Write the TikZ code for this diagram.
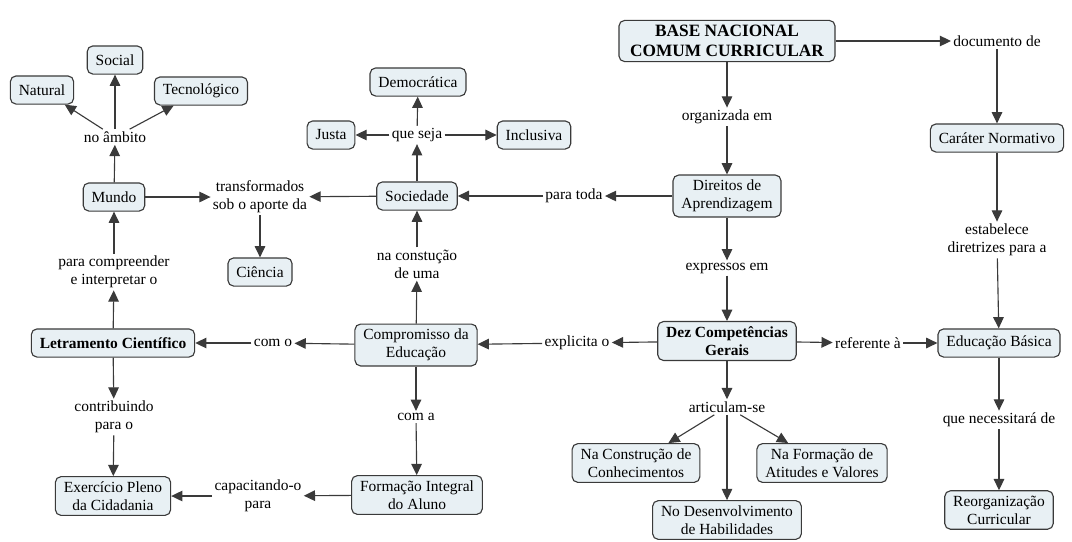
\documentclass[tikz,border=0pt]{standalone}
\usepackage{fontspec}
\setmainfont{Liberation Serif}
\usepackage{tikz}
\usetikzlibrary{arrows.meta}
\definecolor{conceptfill}{HTML}{E8F0F4}
\definecolor{conceptline}{HTML}{3A3A3A}

\begin{document}
\begin{tikzpicture}[x=0.025cm, y=-0.025cm,
    concept/.style={draw=conceptline, line width=0.8pt, rounded corners=4pt, fill=conceptfill,
        align=center, inner xsep=6pt, inner ysep=3.5pt, minimum height=20pt,
        font=\fontsize{11}{12.8}\selectfont},
    link/.style={align=center, inner sep=1.5pt, font=\fontsize{11}{12.8}\selectfont},
    arr/.style={-{Triangle[length=8pt,width=7.5pt]}, line width=0.8pt, draw=conceptline}]
    \useasboundingbox (0,0) rectangle (1072,541);

    % Top: Base Nacional
    \node[concept, font=\fontsize{12.3}{14}\selectfont\bfseries, inner xsep=8pt] (bncc) at (727,41) {BASE NACIONAL\\COMUM CURRICULAR};
    \node[link] (organizada) at (727,117) {organizada em};
    \node[concept] (direitos) at (727,196) {Direitos de\\Aprendizagem};
    \node[link] (expressos) at (727,268) {expressos em};
    \node[concept, font=\fontsize{11}{12.8}\selectfont\bfseries] (dez) at (727,341) {Dez Competências\\Gerais};
    \node[link] (articulam) at (727,407) {articulam-se};
    \node[concept] (construcao) at (636,463) {Na Construção de\\Conhecimentos};
    \node[concept] (atitudes) at (822,463) {Na Formação de\\Atitudes e Valores};
    \node[concept] (habilidades) at (727,520) {No Desenvolvimento\\de Habilidades};

    % Right column
    \node[link] (documento) at (997,41) {documento de};
    \node[concept] (normativo) at (997,138) {Caráter Normativo};
    \node[link] (estabelece) at (997,240) {estabelece\\diretrizes para a};
    \node[concept] (basica) at (999,343) {Educação Básica};
    \node[link] (necessitara) at (999,420) {que necessitará de};
    \node[concept] (reorganizacao) at (999,510) {Reorganização\\Curricular};
    \node[link] (referente) at (868,343) {referente à};

    % Middle column
    \node[link] (paratoda) at (574,196) {para toda};
    \node[concept] (sociedade) at (417,196) {Sociedade};
    \node[link] (queseja) at (417,135) {que seja};
    \node[concept] (democratica) at (418,82) {Democrática};
    \node[concept] (justa) at (331,135) {Justa};
    \node[concept] (inclusiva) at (534,135) {Inclusiva};
    \node[link] (constucao) at (417,264) {na constução\\de uma};
    \node[link] (explicita) at (577,343) {explicita o};
    \node[concept] (compromisso) at (416,345) {Compromisso da\\Educação};
    \node[link] (coma) at (416,417) {com a};
    \node[concept] (formacao) at (417,495) {Formação Integral\\do Aluno};
    \node[link] (capacitando) at (258,496) {capacitando-o\\para};

    % Left column
    \node[link] (transformados) at (260,197) {transformados\\sob o aporte da};
    \node[concept] (ciencia) at (260,272) {Ciência};
    \node[concept] (mundo) at (114,197) {Mundo};
    \node[link] (ambito) at (115,137) {no âmbito};
    \node[concept] (social) at (115,60) {Social};
    \node[concept] (natural) at (42,90) {Natural};
    \node[concept] (tecnologico) at (201,91) {Tecnológico};
    \node[link] (compreender) at (114,272) {para compreender\\e interpretar o};
    \node[link] (como) at (273,343) {com o};
    \node[concept, font=\fontsize{11}{12.8}\selectfont\bfseries] (letramento) at (113,343) {Letramento Científico};
    \node[link] (contribuindo) at (114,417) {contribuindo\\para o};
    \node[concept] (exercicio) at (113,496) {Exercício Pleno\\da Cidadania};

    % Connectors
    \draw[arr] (bncc) -- (organizada);
    \draw[arr] (organizada) -- (direitos);
    \draw[arr] (direitos) -- (expressos);
    \draw[arr] (expressos) -- (dez);
    \draw[arr] (dez) -- (articulam);
    \draw[arr] (articulam) -- (construcao);
    \draw[arr] (articulam) -- (atitudes);
    \draw[arr] (articulam) -- (habilidades);

    \draw[arr] (bncc) -- (bncc.east -| documento.west);
    \draw[arr] (documento) -- (normativo);
    \draw[arr] (normativo) -- (estabelece);
    \draw[arr] (estabelece) -- (basica);
    \draw[arr] (basica) -- (necessitara);
    \draw[arr] (necessitara) -- (reorganizacao);
    \draw[arr] (dez) -- (referente);
    \draw[arr] (referente) -- (basica);

    \draw[arr] (direitos) -- (paratoda);
    \draw[arr] (paratoda) -- (sociedade);
    \draw[arr] (sociedade) -- (queseja);
    \draw[arr] (queseja) -- (democratica);
    \draw[arr] (queseja) -- (justa);
    \draw[arr] (queseja) -- (inclusiva);
    \draw[arr] (dez) -- (explicita);
    \draw[arr] (explicita) -- (compromisso);
    \draw[arr] (compromisso) -- (constucao);
    \draw[arr] (constucao) -- (sociedade);
    \draw[arr] (compromisso) -- (coma);
    \draw[arr] (coma) -- (formacao);
    \draw[arr] (formacao) -- (capacitando);
    \draw[arr] (capacitando) -- (exercicio);

    \draw[arr] (sociedade) -- (transformados);
    \draw[arr] (mundo) -- (transformados);
    \draw[arr] (transformados) -- (ciencia);
    \draw[arr] (mundo) -- (ambito);
    \draw[arr] (ambito) -- (social);
    \draw[arr] (ambito) -- (natural);
    \draw[arr] (ambito) -- (tecnologico);
    \draw[arr] (compromisso) -- (como);
    \draw[arr] (como) -- (letramento);
    \draw[arr] (letramento) -- (compreender);
    \draw[arr] (compreender) -- (mundo);
    \draw[arr] (letramento) -- (contribuindo);
    \draw[arr] (contribuindo) -- (exercicio);
\end{tikzpicture}
\end{document}
